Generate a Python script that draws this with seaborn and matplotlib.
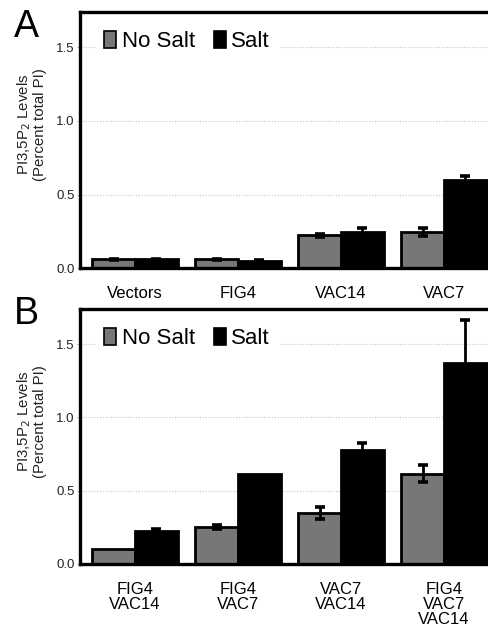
import matplotlib
matplotlib.use("Agg")
import matplotlib.pyplot as plt
import pandas as pd
import numpy as np
import seaborn as sns

sns.set_theme(style="white")
plt.rcParams['font.family'] = ['Liberation Sans', 'DejaVu Sans']
plt.rcParams['text.color'] = 'black'
plt.rcParams['axes.labelcolor'] = 'black'
plt.rcParams['xtick.color'] = 'black'
plt.rcParams['ytick.color'] = 'black'

conditions = ['No Salt', 'Salt']
colors = {'No Salt': '#777777', 'Salt': '#000000'}

# panel A
strains_a = ['Vectors', 'FIG4', 'VAC14', 'VAC7']
nosalt_a = [0.059, 0.059, 0.224, 0.247]
salt_a = [0.059, 0.048, 0.247, 0.599]
nosalt_err_a = [0.004, 0.004, 0.010, 0.028]
salt_err_a = [0.004, 0.004, 0.028, 0.029]

# panel B
strains_b = ['FIG4\nVAC14', 'FIG4\nVAC7', 'VAC7\nVAC14', 'FIG4\nVAC7\nVAC14']
nosalt_b = [0.100, 0.254, 0.350, 0.614]
salt_b = [0.227, 0.616, 0.777, 1.368]
nosalt_err_b = [0.0, 0.015, 0.042, 0.058]
salt_err_b = [0.013, 0.0, 0.045, 0.295]

ylabel = 'PI3,5P$_2$ Levels\n(Percent total PI)'


def make_df(strains, nosalt, salt):
    return pd.DataFrame({
        'strain': strains * 2,
        'cond': ['No Salt'] * len(strains) + ['Salt'] * len(strains),
        'value': list(nosalt) + list(salt),
    })


def draw_panel(ax, strains, nosalt, salt, nerr, serr):
    df = make_df(strains, nosalt, salt)
    sns.barplot(data=df, x='strain', y='value', hue='cond', order=strains,
                hue_order=conditions, palette=colors, width=0.83,
                edgecolor='black', linewidth=2.0, errorbar=None, ax=ax,
                zorder=2)
    for cont, errs in zip(ax.containers, [nerr, serr]):
        for p, e in zip(cont.patches, errs):
            if e <= 0:
                continue
            ax.errorbar(p.get_x() + p.get_width() / 2, p.get_height(), yerr=e,
                        fmt='none', ecolor='black', elinewidth=2.0,
                        capsize=3.8, capthick=2.6, zorder=3)
    ax.set_xlim(-0.535, 3.437)
    ax.set_ylim(0, 1.74)
    ax.set_yticks([0, 0.5, 1.0, 1.5])
    ax.set_yticklabels(['0.0', '0.5', '1.0', '1.5'])
    ax.yaxis.grid(True, linestyle=(0, (1, 1.5)), color='#c4c4c4', linewidth=0.8)
    ax.set_axisbelow(True)
    ax.tick_params(axis='y', labelsize=9.5, length=2, width=0.6, color='#999999',
                   labelcolor='#222222', pad=2, left=True)
    ax.tick_params(axis='x', labelsize=12, length=0, pad=13, labelcolor='black')
    for s in ['left', 'bottom', 'top']:
        ax.spines[s].set_linewidth(2.4)
        ax.spines[s].set_color('black')
    ax.spines['right'].set_visible(False)
    ax.set_xlabel('')
    ax.set_ylabel(ylabel, fontsize=10.8, linespacing=1.0, color='#222222')
    ax.yaxis.set_label_coords(-0.08, 0.56)
    handles, labels = ax.get_legend_handles_labels()
    leg = ax.legend(handles, labels, loc='upper left', ncol=2, frameon=True,
                    fontsize=16, handlelength=0.55, handleheight=0.75,
                    handletextpad=0.25, columnspacing=0.85,
                    bbox_to_anchor=(0.02, 0.985), borderaxespad=0.3,
                    borderpad=0.4, framealpha=1.0)
    leg.get_frame().set_facecolor('white')
    leg.get_frame().set_edgecolor('none')
    for h in leg.legend_handles:
        h.set_edgecolor('black')
        h.set_linewidth(1.2)


fig = plt.figure(figsize=(4.89, 6.28), dpi=100)
ax_a = fig.add_axes([0.1636, 0.573, 0.8364, 0.408])
ax_b = fig.add_axes([0.1636, 0.102, 0.8364, 0.406])

draw_panel(ax_a, strains_a, nosalt_a, salt_a, nosalt_err_a, salt_err_a)
draw_panel(ax_b, strains_b, nosalt_b, salt_b, nosalt_err_b, salt_err_b)

for lab in ax_b.get_xticklabels():
    lab.set_verticalalignment('top')
    lab.set_linespacing(0.98)

fig.text(0.029, 0.941, 'A', fontsize=27, ha='left', va='baseline')
fig.text(0.029, 0.484, 'B', fontsize=27, ha='left', va='baseline')

fig.savefig('out.png', dpi=100)
